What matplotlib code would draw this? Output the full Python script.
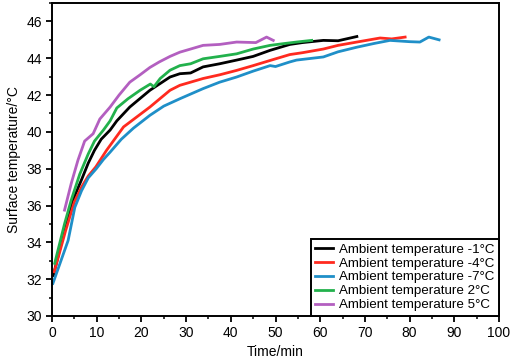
import matplotlib
matplotlib.use("Agg")
import matplotlib.pyplot as plt
from matplotlib.ticker import MultipleLocator

plt.rcParams['font.family'] = ['Liberation Sans', 'DejaVu Sans']

# Time (min) and surface temperature (°C)
t_m1 = [0.3, 2.8, 4.5, 6.6, 8.1, 9.5, 11.0, 13.0, 14.5, 17.4, 21.9, 26.4, 28.6, 31.0, 33.8, 37.5, 41.3, 45.0, 48.8, 53.2, 56.0, 60.7, 64.0, 68.2]
T_m1 = [32.2, 34.7, 36.2, 37.4, 38.3, 39.0, 39.6, 40.1, 40.6, 41.35, 42.26, 42.98, 43.16, 43.2, 43.53, 43.7, 43.9, 44.1, 44.43, 44.75, 44.85, 44.97, 44.95, 45.18]

t_m4 = [0.5, 3.0, 5.0, 6.6, 8.1, 9.8, 12.2, 16.0, 21.9, 26.4, 28.6, 33.8, 37.5, 41.3, 45.0, 48.8, 53.2, 56.0, 60.7, 64.0, 68.2, 73.4, 76.0, 79.0]
T_m4 = [32.4, 34.6, 36.2, 37.0, 37.6, 38.1, 39.0, 40.27, 41.35, 42.26, 42.53, 42.9, 43.1, 43.34, 43.6, 43.88, 44.2, 44.3, 44.5, 44.7, 44.88, 45.1, 45.05, 45.15]

t_m7 = [0.2, 3.6, 5.1, 6.6, 8.1, 9.9, 11.5, 13.0, 15.5, 18.2, 21.9, 25.0, 28.6, 33.8, 37.5, 41.3, 45.0, 48.8, 50.0, 53.2, 54.7, 60.7, 64.0, 68.2, 72.0, 75.6, 80.0, 82.3, 84.3, 86.6]
T_m7 = [31.77, 34.1, 35.9, 36.8, 37.5, 38.0, 38.5, 38.9, 39.6, 40.2, 40.9, 41.4, 41.8, 42.35, 42.7, 42.98, 43.3, 43.6, 43.55, 43.8, 43.9, 44.07, 44.35, 44.6, 44.8, 44.97, 44.9, 44.88, 45.15, 45.0]

t_p2 = [0.6, 2.8, 4.3, 6.2, 8.1, 9.5, 11.5, 13.0, 14.5, 17.0, 19.7, 22.0, 22.8, 24.2, 26.4, 28.6, 31.0, 33.8, 37.5, 41.3, 45.0, 48.8, 52.0, 54.7, 58.1]
T_p2 = [32.86, 35.0, 36.3, 37.7, 38.8, 39.5, 40.1, 40.6, 41.3, 41.8, 42.26, 42.6, 42.45, 42.9, 43.35, 43.6, 43.7, 43.97, 44.1, 44.24, 44.5, 44.7, 44.8, 44.88, 44.97]

t_p5 = [2.8, 4.3, 5.8, 7.3, 9.2, 10.7, 13.0, 15.0, 17.4, 19.7, 21.9, 24.0, 26.4, 28.6, 31.0, 33.8, 37.5, 41.3, 45.6, 48.0, 49.5]
T_p5 = [35.75, 37.2, 38.46, 39.5, 39.9, 40.7, 41.35, 42.0, 42.7, 43.1, 43.5, 43.8, 44.1, 44.33, 44.5, 44.7, 44.75, 44.88, 44.85, 45.15, 44.97]

labels = ["Ambient temperature -1°C", "Ambient temperature -4°C", "Ambient temperature -7°C",
          "Ambient temperature 2°C", "Ambient temperature 5°C"]
colors = ["#000000", "#ff2a1f", "#1f8fc8", "#22b14c", "#b35fc0"]

fig = plt.figure(figsize=(5.12, 3.59), dpi=100)
ax = fig.add_axes([0.1016, 0.1198, 0.873, 0.8718])

series = [(t_m1, T_m1), (t_m4, T_m4), (t_m7, T_m7), (t_p2, T_p2), (t_p5, T_p5)]
for (t, T), c, lab in zip(series, colors, labels):
    ax.plot(t, T, color=c, lw=2.0, label=lab, solid_joinstyle='round')

ax.set_xlim(0, 100)
ax.set_ylim(30, 47)
ax.xaxis.set_major_locator(MultipleLocator(10))
ax.xaxis.set_minor_locator(MultipleLocator(5))
ax.set_yticks(range(30, 47, 2))
ax.yaxis.set_minor_locator(MultipleLocator(1))
ax.tick_params(which='major', direction='out', length=4.5, width=1.3, labelsize=10, colors='black', pad=2.5)
ax.tick_params(which='minor', direction='out', length=2.5, width=1.1)
ax.tick_params(top=False, right=False, which='both')
for s in ax.spines.values():
    s.set_linewidth(1.4)

ax.set_xlabel("Time/min", fontsize=10, labelpad=4)
ax.set_ylabel("Surface temperature/°C", fontsize=10, labelpad=4)

leg = ax.legend(loc='lower right', bbox_to_anchor=(1.0, 0.0), fontsize=9.6, frameon=True,
                fancybox=False, edgecolor='black', framealpha=1, borderaxespad=0,
                handlelength=1.3, handletextpad=0.45, labelspacing=0.12, borderpad=0.35)
leg.get_frame().set_linewidth(1.4)

fig.savefig("out.png", dpi=100)
